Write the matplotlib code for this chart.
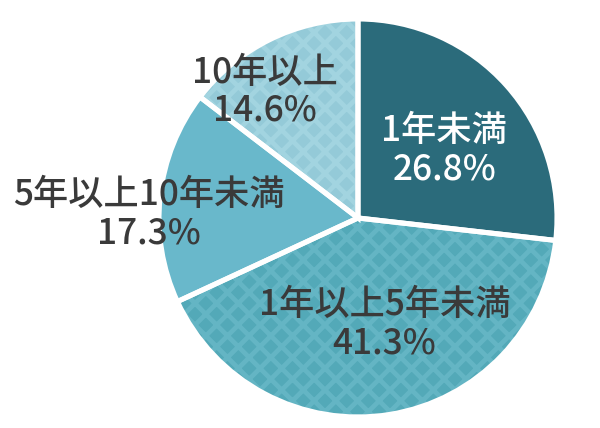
import numpy as np
import matplotlib
matplotlib.use("Agg")
import matplotlib.pyplot as plt

plt.rcParams['font.family'] = ['Noto Sans CJK JP', 'DejaVu Sans']
plt.rcParams['hatch.linewidth'] = 2.6

# data
categories = ["1年未満", "1年以上5年未満", "5年以上10年未満", "10年以上"]
shares = [26.8, 41.3, 17.3, 14.6]

# style
face_colors = ["#2b6b7b", "#53a9b8", "#69b8cb", "#94cad8"]
hatch_colors = [None, "#64b5c4", None, "#a2d4e0"]
text_colors = ["white", "#3a3a3a", "#3a3a3a", "#3a3a3a"]
# label placement: (radius fraction, angle in degrees)
label_pos = [(0.55, 38), (0.55, -76), (1.05, 179), (0.79, 126.5)]

dpi = 130
fig = plt.figure(figsize=(600 / dpi, 428 / dpi), dpi=dpi)
ax = fig.add_axes([0.265, 0.0257, 0.6633, 0.93])

kw = dict(startangle=90, counterclock=False, radius=1)
ax.pie(shares, colors=face_colors, wedgeprops=dict(linewidth=0), **kw)

# diamond texture on the patterned slices
hatch_wedges, _ = ax.pie(shares, **kw)
for w, hc in zip(hatch_wedges, hatch_colors):
    w.set_facecolor("none")
    if hc is None:
        w.set_visible(False)
    else:
        w.set_edgecolor(hc)
        w.set_linewidth(0)
        w.set_hatch("xx")

# white separators
edge_wedges, _ = ax.pie(shares, **kw)
for w in edge_wedges:
    w.set_facecolor("none")
    w.set_edgecolor("white")
    w.set_linewidth(2.8)

for cat, val, (r, ang), tc in zip(categories, shares, label_pos, text_colors):
    a = np.deg2rad(ang)
    ax.text(r * np.cos(a), r * np.sin(a), f"{cat}\n{val:.1f}%",
            ha="center", va="center", fontsize=19.5, color=tc,
            fontweight="medium", linespacing=1.08,
            multialignment="center")

ax.set_xlim(-1, 1)
ax.set_ylim(-1, 1)
ax.set_aspect("equal")
ax.axis("off")

fig.savefig("out.png", dpi=dpi)
